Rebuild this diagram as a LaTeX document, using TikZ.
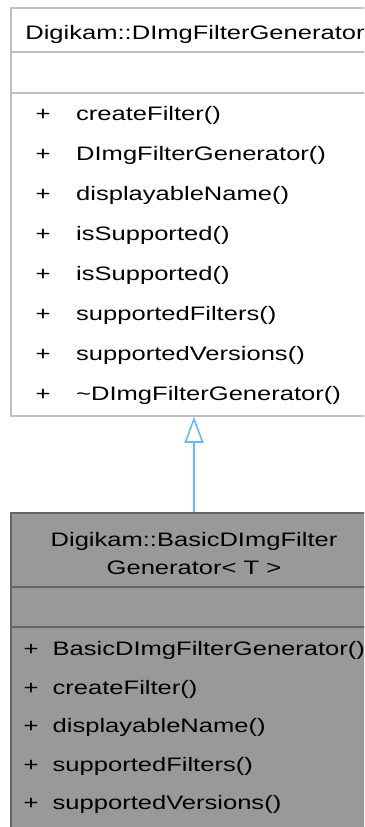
\documentclass[tikz,border=0pt]{standalone}
\usepackage{fontspec}
\setmainfont{Liberation Sans}[FakeStretch=1.31]
\usepackage{tikz}
\usetikzlibrary{positioning}
\usetikzlibrary{arrows.meta}

\definecolor{baseborder}{HTML}{BFBFBF}
\definecolor{derivedfill}{HTML}{999999}
\definecolor{derivedline}{HTML}{666666}
\definecolor{inheritblue}{HTML}{63B8FF}

\tikzset{
    classbox/.style={draw, line width=1.5pt, minimum width=366pt, inner sep=0pt},
    sepline/.style={line width=1.5pt},
    member/.style={anchor=base west, inner sep=0pt, font=\fontsize{19.5}{23}\selectfont},
    visib/.style={anchor=base, inner sep=0pt, font=\fontsize{19.5}{23}\selectfont},
    inherit/.style={draw=inheritblue, line width=1.6pt, -{Triangle[open, length=26pt, width=19pt]}}
}

\begin{document}
\begin{tikzpicture}[x=1pt, y=-1pt]
        \useasboundingbox (0,0) rectangle (364,827);
        \clip (0,0) rectangle (364,827);

        % Clase base
        \node[classbox, draw=baseborder, fill=white, minimum height=408pt] (dimgfiltergen) at (194,212) {};
        \node[visib] (dimgfiltergentitle) at (195,39) {Digikam::DImgFilterGenerator};
        \draw[sepline, draw=baseborder] (dimgfiltergen.west |- 0,52) -- (dimgfiltergen.east |- 0,52);
        \draw[sepline, draw=baseborder] (dimgfiltergen.west |- 0,93) -- (dimgfiltergen.east |- 0,93);

        \foreach \name [count=\i from 0] in {
            createFilter(), DImgFilterGenerator(), displayableName(),
            isSupported(), isSupported(), supportedFilters(),
            supportedVersions(), \textasciitilde DImgFilterGenerator()
        } {
            \node[visib] (basevis\i) at (43,120.5+40*\i) {+};
            \node[member] (basemem\i) at (76,120.5+40*\i) {\name};
        }

        % Clase derivada (plantilla)
        \node[classbox, draw=derivedline, fill=derivedfill, minimum height=330pt] (basicgen) at (194,678) {};
        \node[visib, align=center, font=\fontsize{19.5}{28}\selectfont] (basicgentitle) at (194,574)
            {Digikam::BasicDImgFilter\\Generator< T >};
        \draw[sepline, draw=derivedline] (basicgen.west |- 0,587) -- (basicgen.east |- 0,587);
        \draw[sepline, draw=derivedline] (basicgen.west |- 0,627) -- (basicgen.east |- 0,627);

        \foreach \name [count=\i from 0] in {
            BasicDImgFilterGenerator(), createFilter(), displayableName(),
            supportedFilters(), supportedVersions()
        } {
            \node[visib] (derivvis\i) at (31,655.5+38.5*\i) {+};
            \node[member] (derivmem\i) at (52.5,655.5+38.5*\i) {\name};
        }

        % Herencia
        \draw[inherit] (basicgen.north) -- (dimgfiltergen.south);

    \end{tikzpicture}
\end{document}
